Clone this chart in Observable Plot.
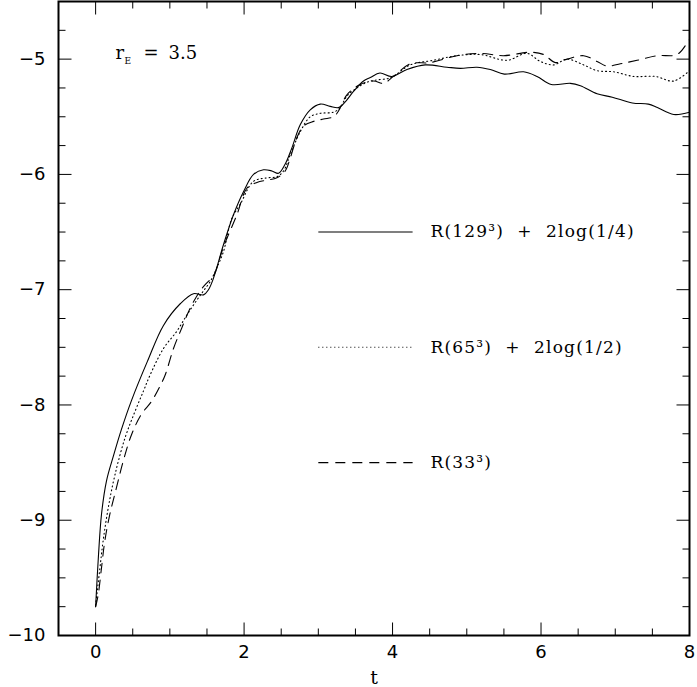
<!DOCTYPE html>
<html>
<head>
<meta charset="utf-8">
<script src="https://cdn.jsdelivr.net/npm/d3@7"></script>
<script src="https://cdn.jsdelivr.net/npm/@observablehq/plot@0.6"></script>
<style>
  html, body { margin: 0; padding: 0; background: #fff; }
</style>
</head>
<body>
<div id="chart"></div>
<script>
// ---- data ----
const solidT = [0, 0.039, 0.079, 0.146, 0.241, 0.349, 0.484, 0.699, 0.914, 1.143, 1.318, 1.453, 1.52, 1.588, 1.722, 1.857, 1.992, 2.127, 2.261, 2.375, 2.464, 2.554, 2.644, 2.756, 2.891, 3.026, 3.16, 3.272, 3.363, 3.474, 3.609, 3.70, 3.83, 3.99, 4.194, 4.44, 4.733, 4.912, 5.137, 5.317, 5.505, 5.765, 5.946, 6.139, 6.395, 6.53, 6.755, 6.96, 7.23, 7.446, 7.567, 7.787, 8.0];
const solidY = [-9.75, -9.30, -8.95, -8.66, -8.44, -8.21, -7.96, -7.62, -7.31, -7.12, -7.035, -7.045, -7.00, -6.90, -6.61, -6.35, -6.15, -6.00, -5.96, -5.97, -5.99, -5.91, -5.77, -5.57, -5.44, -5.39, -5.41, -5.42, -5.37, -5.28, -5.19, -5.16, -5.12, -5.15, -5.09, -5.05, -5.07, -5.08, -5.07, -5.09, -5.13, -5.11, -5.15, -5.22, -5.21, -5.23, -5.30, -5.33, -5.38, -5.39, -5.42, -5.48, -5.46];

const dottedT = [0, 0.057, 0.101, 0.168, 0.259, 0.394, 0.528, 0.644, 0.734, 0.914, 1.094, 1.229, 1.364, 1.453, 1.543, 1.633, 1.722, 1.836, 1.947, 2.127, 2.307, 2.442, 2.531, 2.621, 2.756, 2.891, 3.026, 3.205, 3.295, 3.385, 3.52, 3.655, 3.79, 3.925, 4.01, 4.239, 4.549, 4.868, 5.182, 5.542, 5.811, 5.99, 6.17, 6.35, 6.574, 6.755, 6.978, 7.248, 7.54, 7.787, 8.0];
const dottedY = [-9.74, -9.42, -9.18, -8.90, -8.61, -8.29, -8.06, -7.88, -7.74, -7.51, -7.36, -7.22, -7.09, -7.01, -6.93, -6.81, -6.67, -6.38, -6.26, -6.06, -6.03, -6.02, -5.97, -5.83, -5.63, -5.50, -5.47, -5.46, -5.42, -5.32, -5.25, -5.20, -5.18, -5.17, -5.15, -5.05, -5.01, -4.97, -4.96, -5.01, -4.95, -5.02, -5.05, -5.00, -5.05, -5.10, -5.11, -5.15, -5.15, -5.19, -5.10];

const dashedT = [0, 0.034, 0.078, 0.124, 0.191, 0.28, 0.371, 0.482, 0.617, 0.752, 0.865, 0.937, 1.049, 1.162, 1.274, 1.408, 1.499, 1.588, 1.722, 1.903, 2.038, 2.173, 2.307, 2.442, 2.554, 2.621, 2.712, 2.8, 2.935, 3.07, 3.205, 3.272, 3.385, 3.565, 3.744, 3.879, 4.013, 4.239, 4.508, 4.868, 5.182, 5.496, 5.856, 6.035, 6.193, 6.35, 6.574, 6.755, 6.889, 7.069, 7.294, 7.563, 7.833, 7.968, 8.0];
const dashedY = [-9.75, -9.65, -9.42, -9.18, -8.95, -8.72, -8.49, -8.26, -8.08, -7.97, -7.84, -7.74, -7.51, -7.33, -7.16, -7.01, -6.94, -6.88, -6.63, -6.35, -6.12, -6.07, -6.05, -6.03, -5.97, -5.86, -5.68, -5.58, -5.54, -5.52, -5.50, -5.45, -5.31, -5.22, -5.19, -5.21, -5.15, -5.04, -5.03, -4.97, -4.95, -4.97, -4.94, -4.96, -5.03, -5.00, -4.97, -5.02, -5.06, -5.04, -5.01, -4.97, -4.96, -4.86, -4.83];

const seriesLabels = ["R(129\u00b3)\u00a0\u00a0+\u00a0\u00a02log(1/4)", "R(65\u00b3)\u00a0\u00a0+\u00a0\u00a02log(1/2)", "R(33\u00b3)"];
const seriesDash = [null, "1,3", "10,7"];
const legendRowY = [-6.5, -7.5, -8.5];

const xMajor = [0, 2, 4, 6, 8];
const xMinor = [0.5, 1, 1.5, 2.5, 3, 3.5, 4.5, 5, 5.5, 6.5, 7, 7.5];
const yMajor = [-10, -9, -8, -7, -6, -5];
const yMinor = [-9.75, -9.5, -9.25, -8.75, -8.5, -8.25, -7.75, -7.5, -7.25, -6.75, -6.5, -6.25, -5.75, -5.5, -5.25, -4.75];

// ---- build tables ----
const toRows = (T, Y) => T.map((t, i) => ({t, v: Y[i]}));
const solid = toRows(solidT, solidY);
const dotted = toRows(dottedT, dottedY);
const dashed = toRows(dashedT, dashedY);

const legendX1 = 3.0, legendX2 = 4.27, legendTextX = 4.51;
const legendRows = seriesLabels.map((label, i) => ({label, y: legendRowY[i], dash: seriesDash[i]}));

const W = 697, H = 687, mL = 58, mR = 8, mT = 1, mB = 52;
const xDom = [-0.5, 8], yDom = [-10, -4.5];
const frameW = W - mL - mR, frameH = H - mT - mB;
const pxX = frameW / (xDom[1] - xDom[0]);   // pixels per x unit
const pxY = frameH / (yDom[1] - yDom[0]);   // pixels per y unit
const majorLen = 13, minorLen = 7;

const sans = "DejaVu Sans, sans-serif";
const serif = "DejaVu Serif, serif";
const fmt = d => (d < 0 ? "\u2212" : "") + Math.abs(d);

// inward ticks as short links, lengths converted from pixels to data units
const tickStyle = {stroke: "#000", strokeWidth: 1};
const xTickRows = (vals, len) => vals.flatMap(v => [
  {x1: v, x2: v, y1: yDom[0], y2: yDom[0] + len / pxY},
  {x1: v, x2: v, y1: yDom[1], y2: yDom[1] - len / pxY}
]);
const yTickRows = (vals, len) => vals.flatMap(v => [
  {y1: v, y2: v, x1: xDom[0], x2: xDom[0] + len / pxX},
  {y1: v, y2: v, x1: xDom[1], x2: xDom[1] - len / pxX}
]);
const tickRows = [
  ...xTickRows(xMajor, majorLen), ...xTickRows(xMinor, minorLen),
  ...yTickRows(yMajor, majorLen), ...yTickRows(yMinor, minorLen)
];

const marks = [
  Plot.link(tickRows, {x1: "x1", x2: "x2", y1: "y1", y2: "y2", ...tickStyle}),
  // tick labels
  Plot.axisX(xMajor, {anchor: "bottom", tickSize: 0, tickPadding: 10, tickFormat: fmt, label: null, fontSize: 18, fontFamily: sans}),
  Plot.axisY(yMajor, {anchor: "left", tickSize: 0, tickPadding: 13, tickFormat: fmt, label: null, fontSize: 18, fontFamily: sans}),
  // x label
  Plot.text(["t"], {frameAnchor: "bottom", dy: 42, text: d => d, fontSize: 19, fontFamily: serif, lineAnchor: "middle"}),
  // curves
  Plot.line(solid, {x: "t", y: "v", stroke: "#000", strokeWidth: 1.1, curve: "catmull-rom"}),
  Plot.line(dotted, {x: "t", y: "v", stroke: "#000", strokeWidth: 1.1, strokeDasharray: "1,3", curve: "catmull-rom"}),
  Plot.line(dashed, {x: "t", y: "v", stroke: "#000", strokeWidth: 1.1, strokeDasharray: "10,7", curve: "catmull-rom"}),
  // legend
  ...legendRows.map(r => Plot.link([r], {x1: () => legendX1, x2: () => legendX2, y1: "y", y2: "y", stroke: "#000", strokeWidth: 1.1, strokeDasharray: r.dash})),
  Plot.text(legendRows, {x: () => legendTextX, y: "y", text: "label", textAnchor: "start", fontSize: 17, fontFamily: serif}),
  // annotation r_E = 3.5
  Plot.text(["r"], {x: () => 0.268, y: () => -5, text: d => d, textAnchor: "start", lineAnchor: "bottom", fontSize: 18, fontFamily: serif}),
  Plot.text(["E"], {x: () => 0.268, y: () => -5, text: d => d, textAnchor: "start", lineAnchor: "bottom", dx: 9, dy: 5, fontSize: 9, fontFamily: serif}),
  Plot.text(["="], {x: () => 0.268, y: () => -5, text: d => d, textAnchor: "start", lineAnchor: "bottom", dx: 28, fontSize: 18, fontFamily: serif}),
  Plot.text(["3.5"], {x: () => 0.268, y: () => -5, text: d => d, textAnchor: "start", lineAnchor: "bottom", dx: 53, fontSize: 18, fontFamily: serif}),
  // frame
  Plot.frame({stroke: "#000", strokeWidth: 2})
];

const chart = Plot.plot({
  width: W,
  height: H,
  marginLeft: mL,
  marginRight: mR,
  marginTop: mT,
  marginBottom: mB,
  style: {background: "#fff", color: "#000", fontFamily: sans, overflow: "visible"},
  x: {domain: xDom, label: null},
  y: {domain: yDom, label: null},
  marks
});
chart.querySelectorAll("text").forEach(el => {
  if (el.textContent.startsWith("R(")) el.style.letterSpacing = "1.2px";
});
document.getElementById("chart").appendChild(chart);
</script>
</body>
</html>
